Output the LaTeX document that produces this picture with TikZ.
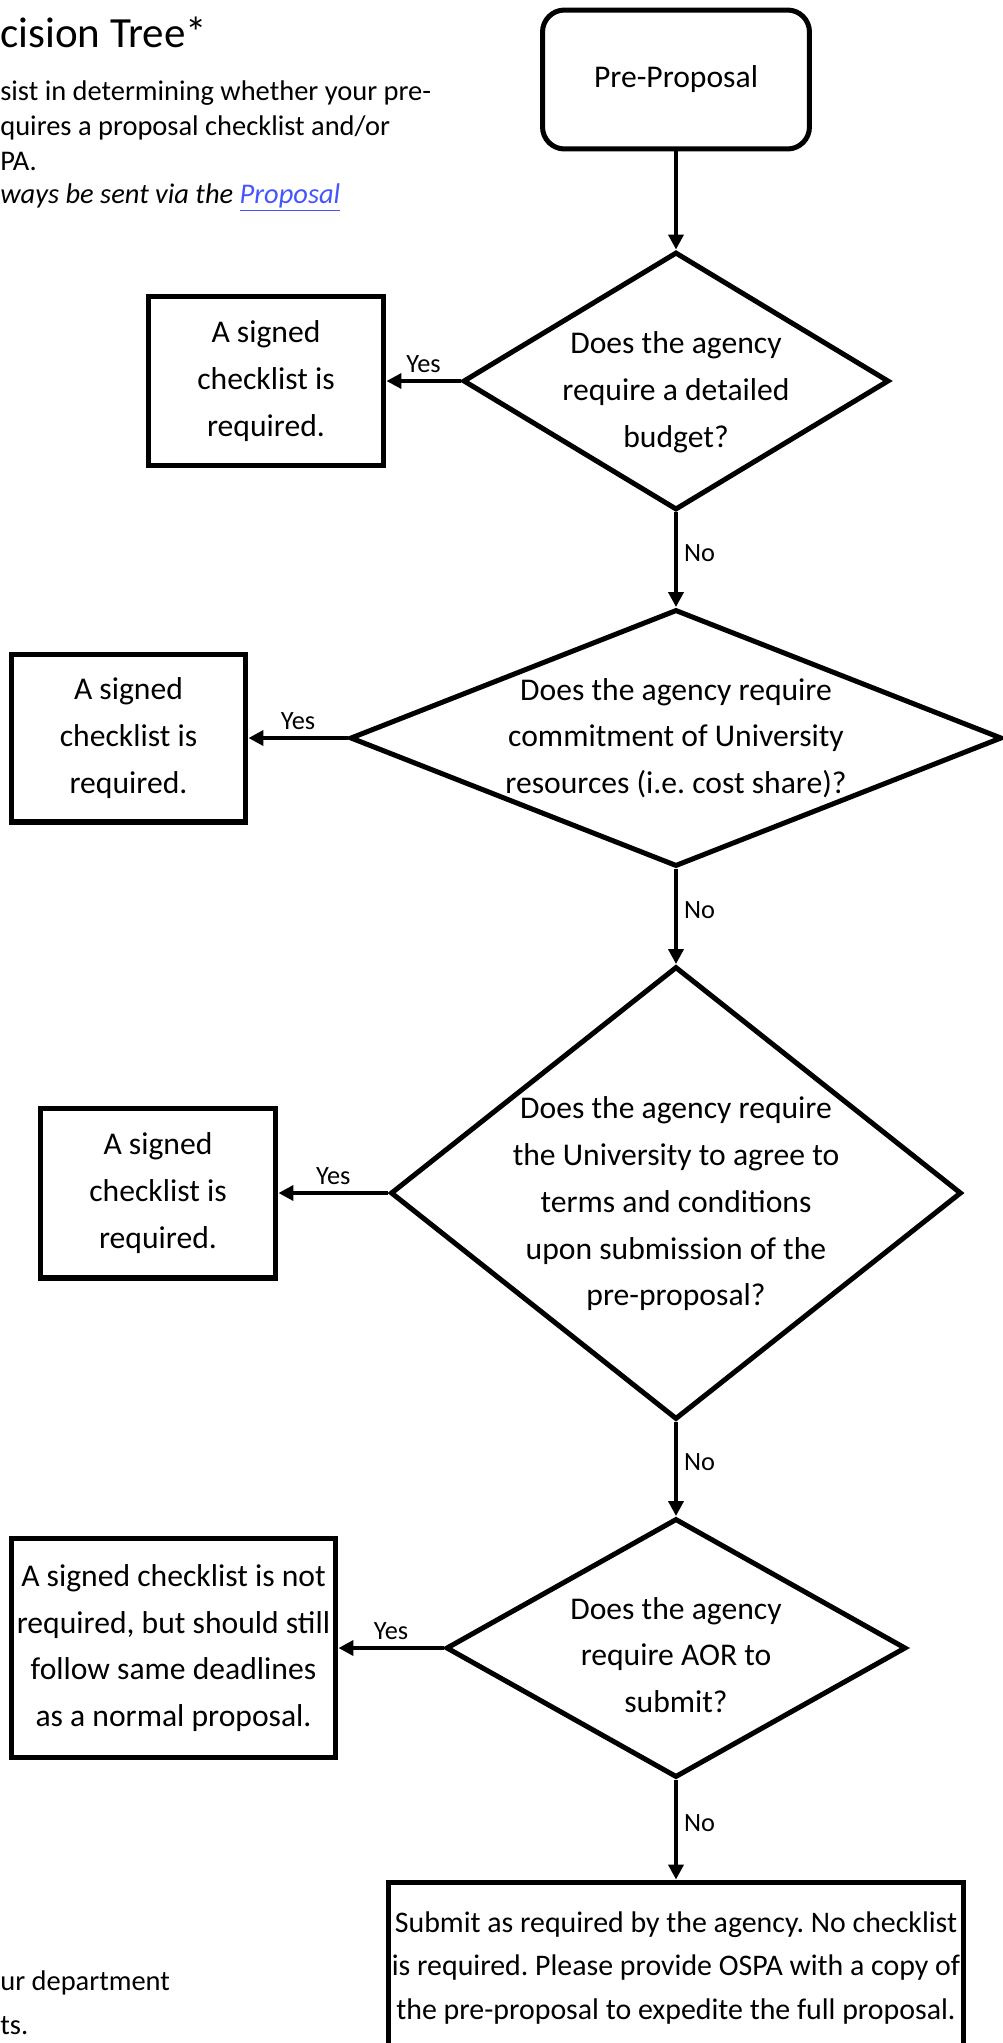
\documentclass[tikz,border=0pt]{standalone}
\usepackage{tikz}
\usepackage{xcolor}
\usepackage{fontspec}
\setmainfont{Carlito}
\usetikzlibrary{shapes.geometric,arrows.meta}
\definecolor{linkblue}{RGB}{68,84,255}
\frenchspacing

\begin{document}
\begin{tikzpicture}[x=0.02cm,y=-0.02cm,
  box/.style={draw,line width=2.85pt,inner sep=0pt,align=center,font=\fontsize{18}{26.6}\selectfont},
  startbox/.style={box,rounded corners=0.44cm},
  endbox/.style={box,font=\fontsize{17}{24.5}\selectfont},
  decision/.style={draw,diamond,line width=2.85pt,inner sep=0pt},
  qtext/.style={align=center,inner sep=0pt,font=\fontsize{18}{26.6}\selectfont},
  flow/.style={line width=2.6pt,-{Triangle[length=0.3cm,width=0.3cm]}},
  lbl/.style={font=\fontsize{15}{17}\selectfont},
  head/.style={anchor=base west,inner sep=0pt,font=\fontsize{16.2}{19}\selectfont},
  title/.style={head,font=\fontsize{24.5}{28}\selectfont}]
\useasboundingbox (0,0) rectangle (1003,2043);

\node[title] (t0) at (0,47) {cision Tree*};
\node[head] (t1) at (0,100) {sist in determining whether your pre-};
\node[head] (t2) at (0,135) {quires a proposal checklist and/or};
\node[head] (t3) at (0,170) {PA.};
\node[head] (t4) at (0,203) {\itshape ways be sent via the {\color{linkblue}\underline{Proposal}}};
\node[head] (t5) at (0,1990) {ur department};
\node[head] (t6) at (0,2034) {ts.};

\node[startbox,minimum width=5.34cm,minimum height=2.78cm] (pre) at (676,79.5) {Pre-Proposal};

\node[decision,minimum width=8.52cm,minimum height=5.16cm] (d1) at (676,381) {};
\node[qtext] (q1) at (676,392) {Does the agency\\require a detailed\\budget?};
\node[box,minimum width=4.72cm,minimum height=3.38cm] (b1) at (266,381) {A signed\\checklist is\\required.};

\node[decision,minimum width=13.04cm,minimum height=5.14cm] (d2) at (676,738) {};
\node[qtext] (q2) at (676,738) {Does the agency require\\commitment of University\\resources (i.e. cost share)?};
\node[box,minimum width=4.7cm,minimum height=3.36cm] (b2) at (128.5,738) {A signed\\checklist is\\required.};

\node[decision,minimum width=11.42cm,minimum height=9.06cm] (d3) at (676,1193) {};
\node[qtext] (q3) at (676,1204) {Does the agency require\\the University to agree to\\terms and conditions\\upon submission of the\\pre-proposal?};
\node[box,minimum width=4.72cm,minimum height=3.4cm] (b3) at (158,1193) {A signed\\checklist is\\required.};

\node[decision,minimum width=9.2cm,minimum height=5.18cm] (d4) at (676,1648) {};
\node[qtext] (q4) at (676,1655) {Does the agency\\require AOR to\\submit?};
\node[box,minimum width=6.5cm,minimum height=4.38cm] (b4) at (173.5,1648) {A signed checklist is not\\required, but should still\\follow same deadlines\\as a normal proposal.};

\node[endbox,minimum width=11.5cm,minimum height=3.44cm] (b5) at (676,1968) {Submit as required by the agency. No checklist\\is required. Please provide OSPA with a copy of\\the pre-proposal to expedite the full proposal.};

\draw[flow] (pre.south) -- (d1.north);
\draw[flow] (d1.west) -- node[lbl,above] (y1) {Yes} (b1.east);
\draw[flow] (d1.south) -- node[lbl,right,pos=0.43] (n1) {No} (d2.north);
\draw[flow] (d2.west) -- node[lbl,above] (y2) {Yes} (b2.east);
\draw[flow] (d2.south) -- node[lbl,right,pos=0.43] (n2) {No} (d3.north);
\draw[flow] (d3.west) -- node[lbl,above] (y3) {Yes} (b3.east);
\draw[flow] (d3.south) -- node[lbl,right,pos=0.43] (n3) {No} (d4.north);
\draw[flow] (d4.west) -- node[lbl,above] (y4) {Yes} (b4.east);
\draw[flow] (d4.south) -- node[lbl,right,pos=0.43] (n4) {No} (b5.north);
\end{tikzpicture}
\end{document}
